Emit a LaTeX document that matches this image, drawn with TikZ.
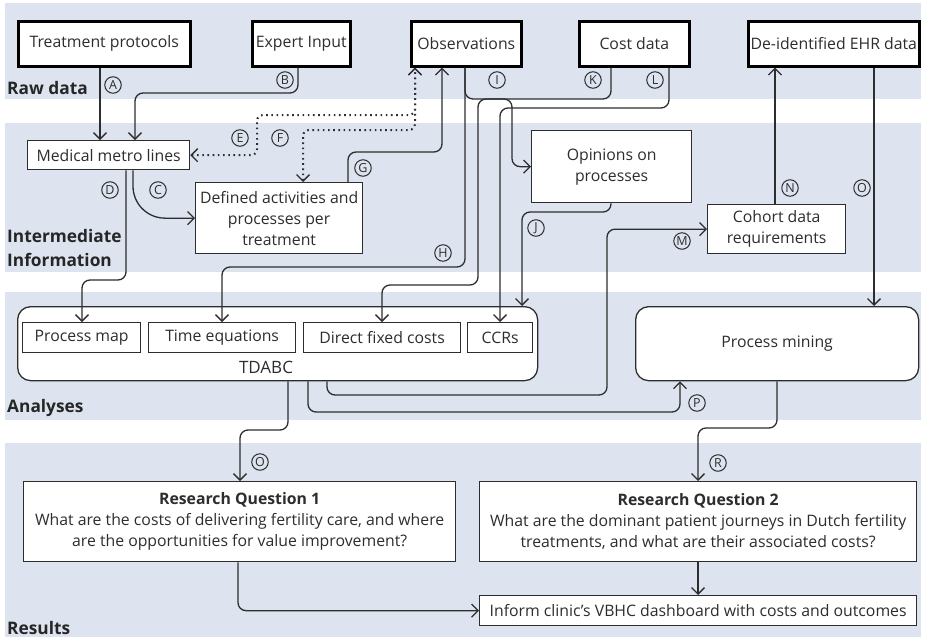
\documentclass[tikz,border=0pt]{standalone}
\usepackage{fontspec}
\setmainfont{Open Sans}
\usetikzlibrary{arrows.meta}
\definecolor{band}{RGB}{221,228,239}
\definecolor{ink}{RGB}{45,45,45}

\begin{document}
\begin{tikzpicture}[x=1pt,y=1pt,
  font=\fontsize{15.8}{21}\selectfont,
  barb/.tip={Straight Barb[length=6.5pt,width=13pt,line width=1.3pt]},
  conn/.style={draw=ink,line width=1.3pt,rounded corners=8pt,-barb},
  dotconn/.style={draw=ink,line width=2pt,dash pattern=on 1.6pt off 3.6pt,rounded corners=6pt,barb-barb},
  topbox/.style={draw=black,line width=2.6pt,fill=white,text=ink,inner sep=0pt,anchor=north west},
  box/.style={draw=ink,line width=1.3pt,fill=white,text=ink,inner sep=0pt,anchor=north west,align=center},
  rbox/.style={box,rounded corners=13pt},
  tag/.style={circle,draw=ink,line width=1pt,text=ink,minimum size=16.5pt,inner sep=0pt,
    font=\fontsize{12.5}{12.5}\selectfont},
  bandlabel/.style={anchor=west,font=\bfseries\fontsize{17.3}{24}\selectfont,text=black!85,align=left,inner sep=0pt}
]
\useasboundingbox (0,0) rectangle (926,-640);

% background bands
\fill[band] (5,-3) rectangle (921,-99);
\fill[band] (5,-123) rectangle (921,-272);
\fill[band] (5,-292) rectangle (921,-420);
\fill[band] (5,-443) rectangle (921,-637);

% band titles
\node[bandlabel] (lraw) at (7,-88) {Raw data};
\node[bandlabel] (lint) at (7,-248) {Intermediate\\Information};
\node[bandlabel] (lana) at (7,-408) {Analyses};
\node[bandlabel] (lres) at (7,-628) {Results};

% raw data sources
\node[topbox,minimum width=172,minimum height=45] (tp) at (17,-20) {Treatment protocols};
\node[topbox,minimum width=98,minimum height=45] (ei) at (251,-20) {Expert Input};
\node[topbox,minimum width=110,minimum height=45] (obs) at (410,-20) {Observations};
\node[topbox,minimum width=110,minimum height=45] (cost) at (578,-20) {Cost data};
\node[topbox,minimum width=171,minimum height=45] (ehr) at (747,-20) {De-identified EHR data};

% intermediate information
\node[box,minimum width=162,minimum height=29] (metro) at (27,-140) {Medical metro lines};
\node[box,minimum width=167,minimum height=71] (def) at (195,-182) {Defined activities and\\processes per\\treatment};
\node[box,minimum width=160,minimum height=72] (op) at (531,-130) {Opinions on\\processes};
\node[box,minimum width=138,minimum height=49] (coh) at (707,-204) {Cohort data\\requirements};

% analyses
\node[rbox,minimum width=520,minimum height=74] (tdabc) at (17,-306) {};
\node[text=ink,font=\fontsize{17}{21}\selectfont] (tdabctext) at (266,-367) {TDABC};
\node[box,minimum width=118,minimum height=30] (pm) at (22,-322) {Process map};
\node[box,minimum width=147,minimum height=30] (te) at (148,-322) {Time equations};
\node[box,minimum width=157,minimum height=30] (dfc) at (303,-322) {Direct fixed costs};
\node[box,minimum width=65,minimum height=30] (ccr) at (467,-322) {CCRs};
\node[rbox,minimum width=283,minimum height=74] (pmin) at (635,-306) {Process mining};

% results
\node[box,minimum width=432,minimum height=80] (rq1) at (23,-481) {\textbf{Research Question 1}\\What are the costs of delivering fertility care, and where\\are the opportunities for value improvement?};
\node[box,minimum width=437,minimum height=80] (rq2) at (479,-481) {\textbf{Research Question 2}\\What are the dominant patient journeys in Dutch fertility\\treatments, and what are their associated costs?};
\node[box,minimum width=437,minimum height=30] (inf) at (479,-595) {Inform clinic's VBHC dashboard with costs and outcomes};

% connectors
\draw[conn] (100,0 |- tp.south) -- (100,0 |- metro.north);
\draw[conn] (298,0 |- ei.south) -- (298,-93) -- (135,-93) -- (135,0 |- metro.north);
\draw[dotconn] (metro.east) -- (257,0 |- metro.east) -- (257,-115) -- (415,-115) -- (415,0 |- obs.south);
\draw[dotconn] (303,0 |- def.north) -- (303,-130) -- (415,-130) -- (415,0 |- obs.south);
\draw[conn] (348,0 |- def.north) -- (348,-152) -- (442,-152) -- (442,0 |- obs.south);
\draw[conn,rounded corners=32pt] (133,0 |- metro.south) |- (def.west);
\draw[conn] (126,0 |- metro.south) -- (126,-280) -- (82,-280) -- (82,0 |- pm.north);
\draw[conn] (465,0 |- obs.south) -- (465,-267) -- (222,-267) -- (222,0 |- te.north);
\draw[conn] (465,0 |- obs.south) -- (465,-99) -- (512,-99) -- (512,0 |- op.west) -- (op.west);
\draw[conn] (611,0 |- cost.south) -- (611,-99) -- (478,-99) -- (478,-285) -- (382,-285) -- (382,0 |- dfc.north);
\draw[conn] (669,0 |- cost.south) -- (669,-108) -- (500,-108) -- (500,0 |- ccr.north);
\draw[conn] (611,0 |- op.south) -- (611,-212) -- (522,-212) -- (522,0 |- tdabc.north);
\draw[conn] (327,0 |- tdabc.south) -- (327,-395) -- (607,-395) -- (607,0 |- coh.west) -- (coh.west);
\draw[conn] (775,0 |- coh.north) -- (775,0 |- ehr.south);
\draw[conn] (874,0 |- ehr.south) -- (874,0 |- pmin.north);
\draw[conn] (308,0 |- tdabc.south) -- (308,-412) -- (680,-412) -- (680,0 |- pmin.south);
\draw[conn] (288,0 |- tdabc.south) -- (288,-430) -- (240,-430) -- (240,0 |- rq1.north);
\draw[conn] (777,0 |- pmin.south) -- (777,-428) -- (698,-428) -- (698,0 |- rq2.north);
\draw[conn] (698,0 |- rq2.south) -- (698,0 |- inf.north);
\draw[conn] (238,0 |- rq1.south) |- (inf.west);

% connector tags
\node[tag] (ta) at (113,-85) {A};
\node[tag] (tb) at (285,-80) {B};
\node[tag] (tc) at (158,-190) {C};
\node[tag] (td) at (110,-190) {D};
\node[tag] (te2) at (240,-138) {E};
\node[tag] (tf) at (280,-138) {F};
\node[tag] (tg) at (363,-168) {G};
\node[tag] (th) at (443,-253) {H};
\node[tag] (ti) at (497,-80) {I};
\node[tag] (tj) at (536,-228) {J};
\node[tag] (tk) at (593,-80) {K};
\node[tag] (tl) at (655,-80) {L};
\node[tag] (tm) at (682,-241) {M};
\node[tag] (tn) at (790,-188) {N};
\node[tag] (to) at (862,-188) {O};
\node[tag] (tp2) at (697,-403) {P};
\node[tag] (tq) at (260,-462) {O};
\node[tag] (tr) at (718,-463) {R};
\end{tikzpicture}
\end{document}
